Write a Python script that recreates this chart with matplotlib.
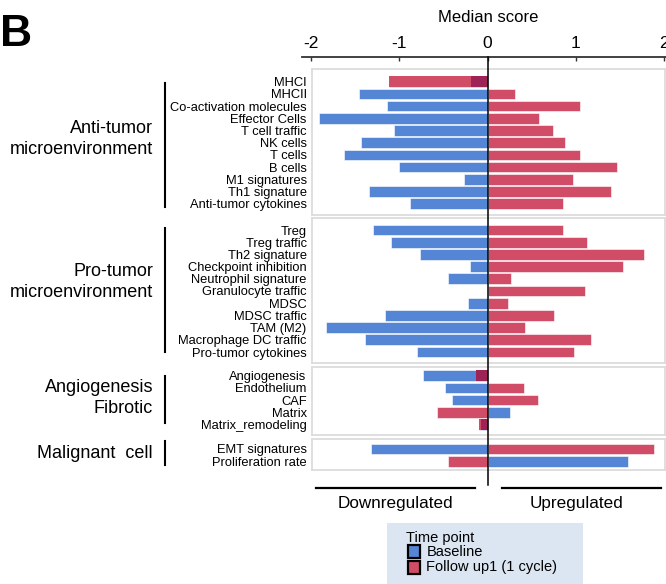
import numpy as np
import matplotlib
matplotlib.use("Agg")
import matplotlib.pyplot as plt
from matplotlib.patches import Rectangle
from matplotlib.lines import Line2D

plt.rcParams['font.family'] = ['Liberation Sans', 'DejaVu Sans']

# ---- data -------------------------------------------------------------
groups = ["Anti-tumor\nmicroenvironment", "Pro-tumor\nmicroenvironment",
          "Angiogenesis\nFibrotic", "Malignant  cell"]

labels_anti = ["MHCI", "MHCII", "Co-activation molecules", "Effector Cells",
               "T cell traffic", "NK cells", "T cells", "B cells",
               "M1 signatures", "Th1 signature", "Anti-tumor cytokines"]
base_anti = [-0.19, -1.46, -1.15, -1.91, -1.07, -1.44, -1.63, -1.01, -0.28, -1.35, -0.88]
follow_anti = [-1.12, 0.30, 1.04, 0.57, 0.73, 0.87, 1.04, 1.46, 0.96, 1.39, 0.85]

labels_pro = ["Treg", "Treg traffic", "Th2 signature", "Checkpoint inhibition",
              "Neutrophil signature", "Granulocyte traffic", "MDSC", "MDSC traffic",
              "TAM (M2)", "Macrophage DC traffic", "Pro-tumor cytokines"]
base_pro = [-1.30, -1.10, -0.77, -0.21, -0.46, 0.0, -0.23, -1.17, -1.84, -1.39, -0.81]
follow_pro = [0.85, 1.12, 1.76, 1.52, 0.26, 1.09, 0.22, 0.74, 0.42, 1.16, 0.97]

labels_angio = ["Angiogenesis", "Endothelium", "CAF", "Matrix", "Matrix_remodeling"]
base_angio = [-0.74, -0.49, -0.41, 0.25, -0.08]
follow_angio = [-0.14, 0.40, 0.56, -0.58, -0.11]

labels_malig = ["EMT signatures", "Proliferation rate"]
base_malig = [-1.33, 1.58]
follow_malig = [1.87, -0.45]

series_names = ["Baseline", "Follow up1 (1 cycle)"]
legend_title = "Time point"
x_ticks = [-2, -1, 0, 1, 2]

blue = "#5585d5"
red = "#d14d67"
dark = "#9e2356"
border = "#dcdcdc"

W, H = 666, 584
fig = plt.figure(figsize=(W / 100, H / 100), dpi=100)


def fx(px):
    return px / W


def fy(py):
    return 1 - py / H


# panel pixel boxes (top, bottom, first row center) and group bar extent
panels = [
    (labels_anti, base_anti, follow_anti, 69, 215, 81.7, 83, 207),
    (labels_pro, base_pro, follow_pro, 218, 363, 230, 228, 352),
    (labels_angio, base_angio, follow_angio, 367, 435, 375.7, 376, 423),
    (labels_malig, base_malig, follow_malig, 439, 470, 449, 441, 465),
]
group_text_y = [139, 282, 398, 453]

left_px, right_px = 311.5, 665
pitch = 12.2
for (labs, b, f, top, bot, c0, gl0, gl1), grp, gty in zip(panels, groups, group_text_y):
    ax = fig.add_axes([fx(left_px), fy(bot), fx(right_px - left_px), (bot - top) / H])
    b = np.array(b)
    f = np.array(f)
    y = np.arange(len(labs))
    ax.barh(y, f, height=0.87, color=red, edgecolor="white", linewidth=0.4, zorder=2)
    ax.barh(y, b, height=0.87, color=blue, edgecolor="white", linewidth=0.4, zorder=2)
    # overlap where both series go the same way
    same = np.sign(b) == np.sign(f)
    ov = np.where(same, np.sign(b) * np.minimum(np.abs(b), np.abs(f)), 0)
    ax.barh(y, ov, height=0.87, color=dark, linewidth=0, zorder=3)
    # red bar longer than blue -> red shows beyond overlap
    longer_red = same & (np.abs(f) > np.abs(b))
    ax.barh(y[longer_red], f[longer_red] - ov[longer_red], left=ov[longer_red],
            height=0.87, color=red, linewidth=0, zorder=3)
    ytop = -(c0 - top) / pitch
    ax.set_ylim(ytop + (bot - top) / pitch, ytop)
    ax.set_xlim(-2, 2)
    ax.set_yticks(y)
    ax.set_yticklabels(labs, fontsize=9.3)
    ax.tick_params(axis="y", length=0, pad=3.5)
    ax.set_xticks([])
    for s in ax.spines.values():
        s.set_color(border)
        s.set_linewidth(1.3)
    # group bracket and label
    fig.add_artist(Line2D([fx(165), fx(165)], [fy(gl0), fy(gl1)], color="black", lw=1.5))
    fig.text(fx(153), fy(gty), grp, ha="right", va="center", fontsize=13, linespacing=1.25)

# top scale
axt = fig.add_axes([fx(301.7), fy(57), fx(666 - 301.7), 0.0001])
axt.set_xlim(-2.105, 2.02)
axt.set_yticks([])
axt.set_xticks(x_ticks)
axt.set_xticklabels([str(t).replace("\u2212", "-") for t in x_ticks], fontsize=12.5)
axt.xaxis.set_ticks_position("top")
axt.tick_params(axis="x", direction="in", length=3, width=1, color="#333333", pad=4)
for k in ["left", "right", "bottom"]:
    axt.spines[k].set_visible(False)
axt.spines["top"].set_color("#333333")
axt.spines["top"].set_linewidth(1.3)
axt.patch.set_visible(False)
fig.text(fx(487.7), fy(17), "Median score", ha="center", va="center", fontsize=12)

# zero line through all panels
fig.add_artist(Line2D([fx(487.7), fx(487.7)], [fy(57), fy(485)], color="black", lw=1.1, zorder=10))

# bottom direction labels
fig.add_artist(Line2D([fx(315.7), fx(475)], [fy(488.3), fy(488.3)], color="black", lw=1.6))
fig.add_artist(Line2D([fx(501.7), fx(661)], [fy(488.3), fy(488.3)], color="black", lw=1.6))
fig.text(fx(395), fy(503.5), "Downregulated", ha="center", va="center", fontsize=12.3)
fig.text(fx(576.7), fy(503.5), "Upregulated", ha="center", va="center", fontsize=12.3)

# legend
fig.add_artist(Rectangle((fx(387), 0), fx(583 - 387), fy(522.7), transform=fig.transFigure,
                         facecolor="#dce6f2", edgecolor="none"))
fig.text(fx(406.5), fy(538), legend_title, ha="left", va="center", fontsize=10.5)
for name, col, yc in zip(series_names, [blue, red], [551.7, 567.5]):
    fig.add_artist(Rectangle((fx(407.5), fy(yc + 6.3)), fx(12.6), 12.6 / H, transform=fig.transFigure,
                             facecolor=col, edgecolor="black", lw=1.6))
    fig.text(fx(426.5), fy(yc), name, ha="left", va="center", fontsize=10.5)

fig.text(fx(0), fy(34), "B", ha="left", va="center", fontsize=32, fontweight="bold")

fig.savefig("out.png", dpi=100)
